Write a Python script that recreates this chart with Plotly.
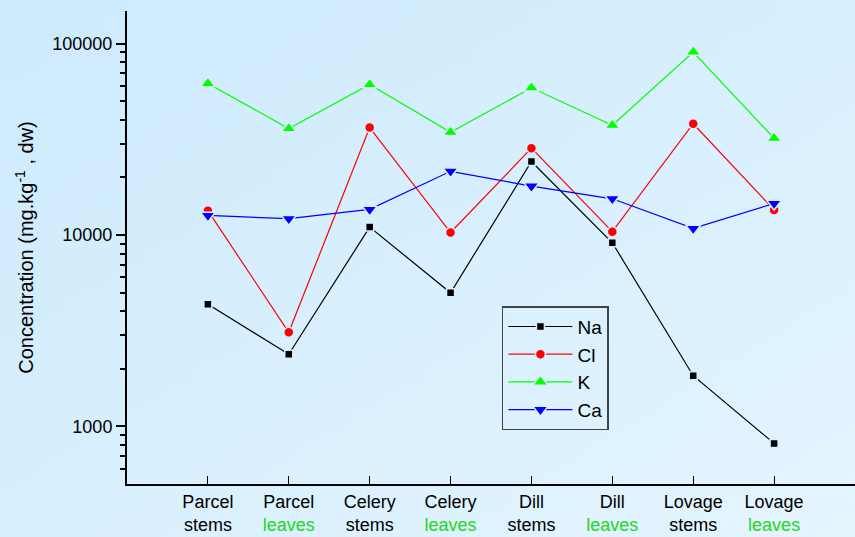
import zlib, struct, base64
import plotly.graph_objects as go

# ---------------- data ----------------
categories = [1, 2, 3, 4, 5, 6, 7, 8]
tick_top = ["Parcel", "Parcel", "Celery", "Celery", "Dill", "Dill", "Lovage", "Lovage"]
tick_bottom = ["stems", "leaves", "stems", "leaves", "stems", "leaves", "stems", "leaves"]

na = [4340, 2380, 10990, 4990, 24200, 9100, 1840, 815]
cl = [13400, 3100, 36400, 10300, 28400, 10400, 38100, 13500]
k = [61800, 36000, 61100, 34400, 58700, 37400, 90200, 32000]
ca = [12650, 12160, 13600, 21500, 18000, 15450, 10820, 14600]

y_tickvals = [1000, 10000, 100000]
y_ticktext = ["1000", "10000", "100000"]

# ---------------- background gradient ----------------
def png_gradient(w, h, c0, c1):
    raw = bytearray()
    for yy in range(h):
        raw.append(0)
        for xx in range(w):
            t = (xx / (w - 1) + yy / (h - 1)) / 2
            for j in range(3):
                raw.append(int(round(c0[j] + (c1[j] - c0[j]) * t)))

    def chunk(tag, data):
        c = struct.pack('>I', len(data)) + tag + data
        return c + struct.pack('>I', zlib.crc32(tag + data) & 0xffffffff)

    png = (b'\x89PNG\r\n\x1a\n'
           + chunk(b'IHDR', struct.pack('>IIBBBBB', w, h, 8, 2, 0, 0, 0))
           + chunk(b'IDAT', zlib.compress(bytes(raw)))
           + chunk(b'IEND', b''))
    return 'data:image/png;base64,' + base64.b64encode(png).decode()

bg_src = png_gradient(86, 54, (205, 234, 253), (228, 245, 254))
BG = "#d8eefd"

# ---------------- layout geometry ----------------
W, H = 855, 537
ML, MR, MT, MB = 127, 0, 11, 53
PW = W - ML - MR
PH = H - MT - MB

FONT = "Liberation Sans, Arial, sans-serif"
GREEN_TXT = "#22d622"

ticktext = []
for a, b in zip(tick_top, tick_bottom):
    if b == "leaves":
        ticktext.append(f"{a}<br><span style='color:{GREEN_TXT}'>{b}</span>")
    else:
        ticktext.append(f"{a}<br>{b}")

fig = go.Figure()

series = [
    ("Na", na, "#000000", "square", 8),
    ("Cl", cl, "#ff0000", "circle", 10),
    ("K", k, "#00ff00", "triangle-up", 13),
    ("Ca", ca, "#0000ff", "triangle-down", 13),
]
for name, vals, col, sym, sz in series:
    fig.add_trace(go.Scatter(
        x=categories, y=vals, name=name, mode="lines+markers",
        line=dict(color=col, width=1.2),
        marker=dict(symbol=sym, size=sz, color=col, line=dict(color=BG, width=1.5)),
    ))

minor_vals = [600, 700, 800, 900] + [m * 1000 for m in range(2, 10)] + [m * 10000 for m in range(2, 10)]

fig.update_layout(
    width=W, height=H,
    margin=dict(l=ML, r=MR, t=MT, b=MB),
    paper_bgcolor=BG,
    plot_bgcolor="rgba(0,0,0,0)",
    font=dict(family=FONT, color="black", size=18),
    showlegend=True,
    legend=dict(
        x=0.515, y=0.376, xanchor="left", yanchor="top",
        bgcolor="rgba(0,0,0,0)", bordercolor="#444444", borderwidth=1.5,
        font=dict(size=19, family=FONT, color="black"),
        tracegroupgap=0, itemwidth=64,
    ),
    images=[dict(
        source=bg_src, xref="paper", yref="paper",
        x=-ML / PW, y=1 + MT / PH, sizex=W / PW, sizey=H / PH,
        xanchor="left", yanchor="top", sizing="stretch", layer="below",
    )],
    xaxis=dict(
        range=[0, 9], tickvals=categories, ticktext=ticktext,
        showline=True, linecolor="black", linewidth=2,
        ticks="inside", ticklen=8, tickwidth=1.2, tickcolor="black",
        showgrid=False, zeroline=False,
        tickfont=dict(size=18, family=FONT, color="black"),
    ),
    yaxis=dict(
        type="log", range=[2.699, 5.17],
        tickvals=y_tickvals, ticktext=y_ticktext,
        showline=True, linecolor="black", linewidth=2,
        ticks="outside", ticklen=9, tickwidth=1.5, tickcolor="black",
        showgrid=False, zeroline=False,
        tickfont=dict(size=18, family=FONT, color="black"),
        minor=dict(tickvals=minor_vals, ticks="outside", ticklen=5, tickwidth=1.5,
                   tickcolor="black", showgrid=False),
        title=dict(text="Concentration (mg.kg<sup>-1</sup> , dw)",
                   font=dict(size=20, family=FONT, color="black"), standoff=13),
    ),
)

fig.write_html("out.html")
